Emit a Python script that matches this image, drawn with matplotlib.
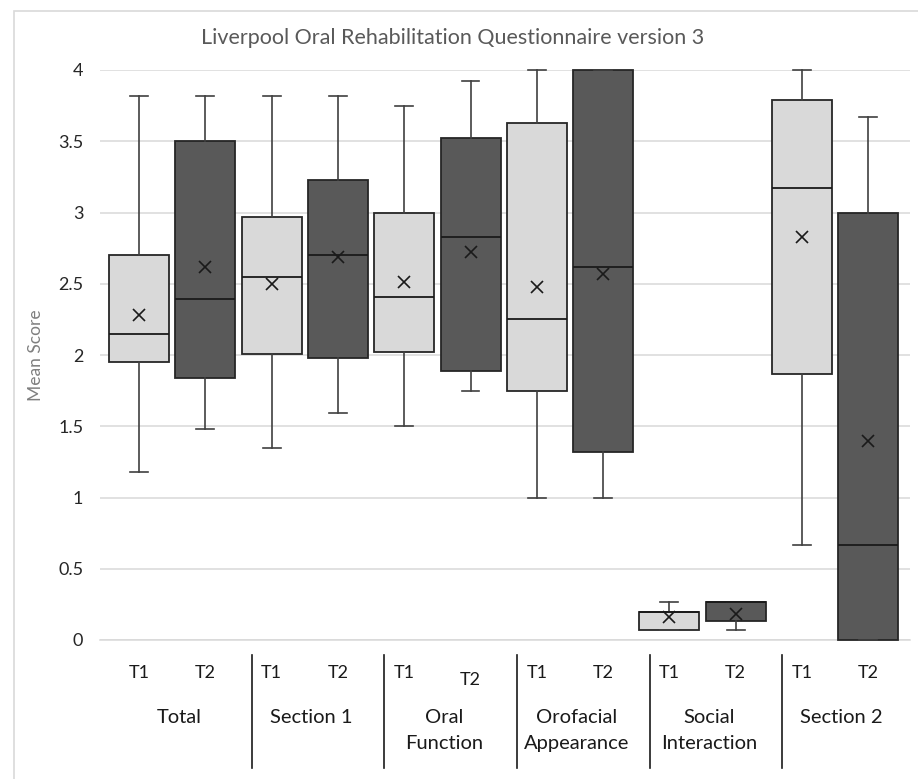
import matplotlib
matplotlib.use("Agg")
import matplotlib.pyplot as plt
from matplotlib.patches import Rectangle

plt.rcParams['font.family'] = ['Lato', 'DejaVu Sans']

groups = ["Total", "Section 1", "Oral\nFunction", "Orofacial\nAppearance", "Social\nInteraction", "Section 2"]
times = ["T1", "T2"]

# per-box statistics, order: group0 T1, group0 T2, group1 T1, ...
whislo = [1.18, 1.48, 1.35, 1.59, 1.50, 1.75, 1.00, 1.00, 0.067, 0.067, 0.67, 0.00]
q1     = [1.95, 1.84, 2.01, 1.98, 2.02, 1.89, 1.75, 1.32, 0.067, 0.133, 1.87, 0.00]
med    = [2.15, 2.39, 2.55, 2.70, 2.41, 2.83, 2.25, 2.62, 0.20, 0.267, 3.17, 0.67]
q3     = [2.70, 3.50, 2.97, 3.23, 3.00, 3.52, 3.63, 4.00, 0.20, 0.267, 3.79, 3.00]
whishi = [3.82, 3.82, 3.82, 3.82, 3.75, 3.92, 4.00, 4.00, 0.267, 0.267, 4.00, 3.67]
means  = [2.28, 2.62, 2.50, 2.69, 2.51, 2.72, 2.48, 2.57, 0.16, 0.18, 2.83, 1.40]

yticks = [0, 0.5, 1, 1.5, 2, 2.5, 3, 3.5, 4]
ytick_labels = ["0", "0.5", "1", "1.5", "2", "2.5", "3", "3.5", "4"]

W, H = 918, 779
fig = plt.figure(figsize=(W / 100, H / 100), dpi=100)
ax = fig.add_axes([100 / W, 1 - 640 / H, 810 / W, 570 / H])

stats = []
for i in range(len(med)):
    stats.append(dict(whislo=whislo[i], q1=q1[i], med=med[i], q3=q3[i],
                      whishi=whishi[i], mean=means[i], fliers=[]))

positions = list(range(len(stats)))
light, dark = "#d9d9d9", "#595959"
bp = ax.bxp(stats, positions=positions, widths=0.905, patch_artist=True,
            showmeans=True, capwidths=0.27,
            boxprops=dict(edgecolor="#262626", linewidth=1.3),
            medianprops=dict(color="#1a1a1a", linewidth=1.3),
            whiskerprops=dict(color="#404040", linewidth=1.2),
            capprops=dict(color="#404040", linewidth=1.2),
            meanprops=dict(marker="x", markeredgecolor="#1a1a1a", markersize=9,
                           markeredgewidth=1.2, linestyle="none"))
for i, box in enumerate(bp["boxes"]):
    box.set_facecolor(light if i % 2 == 0 else dark)
for key in ["boxes", "medians", "whiskers", "caps", "means"]:
    for a in bp[key]:
        a.set_clip_on(False)
        a.set_zorder(3)

ax.set_xlim(-0.59, 11.63)
ax.set_ylim(0, 4)
ax.set_yticks(yticks)
ax.set_yticklabels(ytick_labels)
ax.tick_params(axis="y", length=0, pad=12, labelsize=13, labelcolor="#262626")
ax.set_xticks([])
ax.yaxis.grid(True, color="#d9d9d9", linewidth=1.1)
ax.set_axisbelow(True)
for s in ["left", "right", "top"]:
    ax.spines[s].set_visible(False)
ax.spines["bottom"].set_color("#d9d9d9")
ax.spines["bottom"].set_linewidth(1.1)

ax.set_ylabel("Mean Score", fontsize=12.5, color="#7f7f7f", labelpad=10)

fig.text(453 / W, 1 - 38 / H, "Liverpool Oral Rehabilitation Questionnaire version 3",
         ha="center", va="center", fontsize=15.5, color="#595959")

# category axis labels
tr = ax.get_xaxis_transform()
for g, name in enumerate(groups):
    for t, lab in enumerate(times):
        p = positions[2 * g + t]
        dy = 4.5 if (g == 2 and t == 1) else 0
        ax.annotate(lab, xy=(p, 0), xycoords=tr, xytext=(0, -24 - dy),
                    textcoords="offset points", ha="center", va="center",
                    fontsize=13, color="#1a1a1a", annotation_clip=False)
    ax.annotate(name, xy=(2 * g + 0.6, 0), xycoords=tr, xytext=(0, -50),
                textcoords="offset points", ha="center", va="top",
                fontsize=14.5, color="#1a1a1a", linespacing=1.6,
                annotation_clip=False)
for g in range(len(groups) - 1):
    xsep = 2 * g + 1.7
    ax.plot([xsep, xsep], [-15 / 570 * 4, -128 / 570 * 4], color="#1a1a1a",
            linewidth=1.2, clip_on=False)

# chart frame
fig.patches.append(Rectangle((14 / W, -0.05), 1.2, 1 - 11 / H + 0.05,
                             transform=fig.transFigure, fill=False,
                             edgecolor="#d9d9d9", linewidth=1.2))

fig.savefig("out.png", dpi=100, facecolor="white")
